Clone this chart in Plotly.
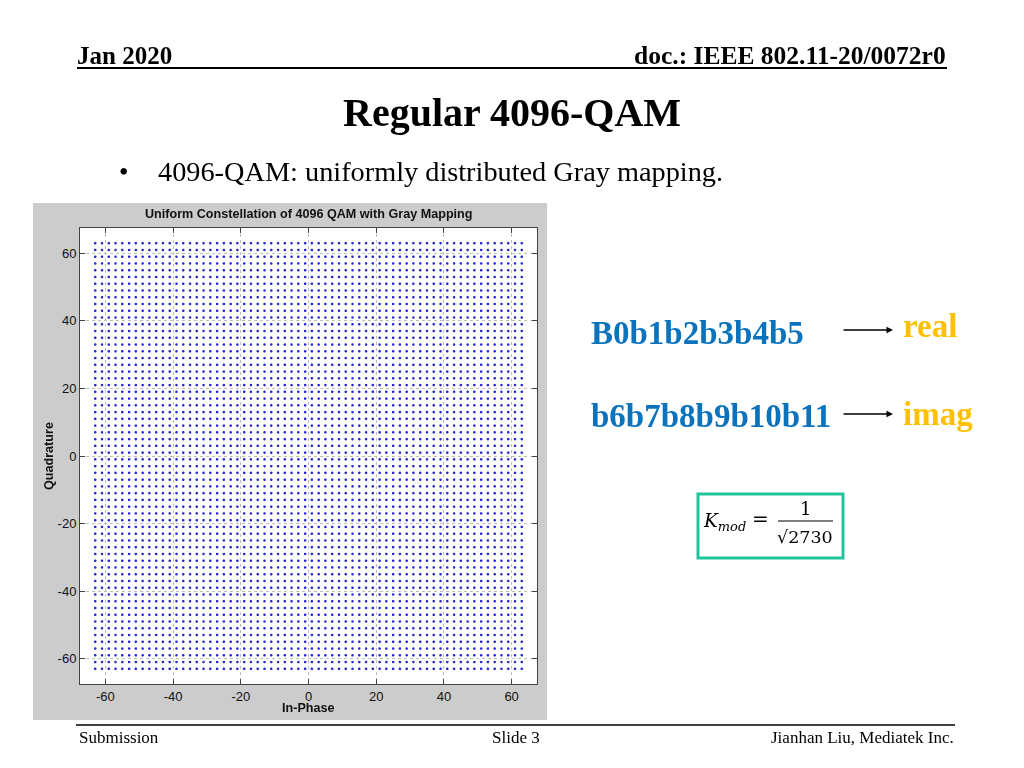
import plotly.graph_objects as go

# ---------------- data ----------------
# Uniform 4096-QAM: 64 amplitude levels per dimension (odd integers)
I_LEVELS = [-63, -61, -59, -57, -55, -53, -51, -49, -47, -45, -43, -41, -39, -37, -35, -33,
            -31, -29, -27, -25, -23, -21, -19, -17, -15, -13, -11, -9, -7, -5, -3, -1,
            1, 3, 5, 7, 9, 11, 13, 15, 17, 19, 21, 23, 25, 27, 29, 31,
            33, 35, 37, 39, 41, 43, 45, 47, 49, 51, 53, 55, 57, 59, 61, 63]
Q_LEVELS = list(I_LEVELS)
TICK_VALUES = [-60, -40, -20, 0, 20, 40, 60]
TICK_LABELS = ["-60", "-40", "-20", "0", "20", "40", "60"]

HEADER_LEFT = "Jan 2020"
HEADER_RIGHT = "doc.: IEEE 802.11-20/0072r0"
SLIDE_TITLE = "Regular 4096-QAM"
BULLET_TEXT = "4096-QAM: uniformly distributed Gray mapping."
CHART_TITLE = "Uniform Constellation of 4096 QAM with Gray Mapping"
X_LABEL = "In-Phase"
Y_LABEL = "Quadrature"
BITS_REAL = "B0b1b2b3b4b5"
BITS_IMAG = "b6b7b8b9b10b11"
FOOTER_LEFT = "Submission"
FOOTER_MID = "Slide 3"
FOOTER_RIGHT = "Jianhan Liu, Mediatek Inc."

# ---------------- layout geometry ----------------
W, H = 1024, 768
OFF = 8  # page body margin offset
PLOT_LEFT, PLOT_RIGHT, PLOT_TOP, PLOT_BOTTOM = 80, 537, 228, 684  # screen pixels
L = PLOT_LEFT - OFF
R = W - (PLOT_RIGHT - OFF)
T = PLOT_TOP - OFF
B = H - (PLOT_BOTTOM - OFF)
PW, PH = W - L - R, H - T - B


def px(x):
    return (x - OFF - L) / PW


def py(y):
    return (H - B - (y - OFF)) / PH


xs = [i for q in Q_LEVELS for i in I_LEVELS]
ys = [q for q in Q_LEVELS for i in I_LEVELS]

fig = go.Figure()
fig.add_trace(go.Scattergl(
    x=xs, y=ys, mode="markers",
    marker=dict(size=2.6, color="#2a2ad4", line=dict(width=0)),
    hoverinfo="skip", showlegend=False,
))

axis_common = dict(
    range=[-67.5, 67.5], tickmode="array", tickvals=TICK_VALUES, ticktext=TICK_LABELS,
    showline=True, linecolor="#444444", linewidth=1, mirror="ticks",
    ticks="inside", ticklen=5, tickcolor="#444444",
    showgrid=True, gridcolor="#bdbdbd", griddash="dot", gridwidth=1,
    zeroline=False, fixedrange=True,
    tickfont=dict(family="Liberation Sans, Arial", size=13, color="#111111"),
)

fig.update_layout(
    width=W, height=H, autosize=False,
    margin=dict(l=L, r=R, t=T, b=B, pad=0),
    paper_bgcolor="white", plot_bgcolor="white",
    xaxis=dict(**axis_common),
    yaxis=dict(**axis_common),
    showlegend=False,
)

serif = "Liberation Serif, Times New Roman, serif"
sans = "Liberation Sans, Arial, sans-serif"
mathf = "DejaVu Serif, serif"

shapes = [
    # MATLAB figure grey
    dict(type="rect", xref="paper", yref="paper", x0=px(33), x1=px(547), y0=py(720), y1=py(203),
         fillcolor="#cccccc", line=dict(width=0), layer="below"),
    dict(type="rect", xref="paper", yref="paper", x0=0, x1=1, y0=0, y1=1,
         fillcolor="white", line=dict(width=0), layer="below"),
    # header line
    dict(type="line", xref="paper", yref="paper", x0=px(77), x1=px(947), y0=py(68), y1=py(68),
         line=dict(color="black", width=2)),
    # footer line
    dict(type="line", xref="paper", yref="paper", x0=px(76), x1=px(955), y0=py(725), y1=py(725),
         line=dict(color="black", width=1.5)),
    # formula box
    dict(type="rect", xref="paper", yref="paper", x0=px(698), x1=px(843), y0=py(558), y1=py(494),
         line=dict(color="#22c49c", width=3), fillcolor="rgba(0,0,0,0)"),
    # fraction bar
    dict(type="line", xref="paper", yref="paper", x0=px(778), x1=px(833), y0=py(521), y1=py(521),
         line=dict(color="black", width=1)),
]
fig.update_layout(shapes=shapes)


def txt(x, y, text, size, family=serif, color="black", xanchor="left", yanchor="middle", angle=0):
    fig.add_annotation(xref="paper", yref="paper", x=px(x), y=py(y), text=text, showarrow=False,
                       xanchor=xanchor, yanchor=yanchor, textangle=angle,
                       font=dict(family=family, size=size, color=color))


txt(75, 55, "<b>" + HEADER_LEFT + "</b>", 25)
txt(948, 55, "<b>" + HEADER_RIGHT + "</b>", 25.5, xanchor="right")
txt(512, 113, "<b>" + SLIDE_TITLE + "</b>", 40, xanchor="center")
txt(117, 172, "•", 27)
txt(156, 171, BULLET_TEXT, 28.3)

txt(308, 214, "<b>" + CHART_TITLE + "</b>", 12.6, family=sans, color="#111111", xanchor="center")
txt(308, 708, "<b>" + X_LABEL + "</b>", 12.6, family=sans, color="#111111", xanchor="center")
txt(49, 456, "<b>" + Y_LABEL + "</b>", 12.6, family=sans, color="#111111", xanchor="center", angle=-90)

txt(589, 333, "<b>" + BITS_REAL + "</b>", 33, color="#0b72bd")
txt(589, 416, "<b>" + BITS_IMAG + "</b>", 33, color="#0b72bd")
txt(901, 326, "<b>real</b>", 33, color="#ffc000")
txt(901, 414, "<b>imag</b>", 33, color="#ffc000")

for yy in (330, 414):
    fig.add_annotation(xref="paper", yref="paper", x=px(893), y=py(yy), ax=-51, ay=0,
                       text="", showarrow=True, arrowhead=2, arrowsize=1, arrowwidth=1.3,
                       arrowcolor="black")

# formula K_mod = 1/sqrt(2730)
txt(701, 522, "<i>K</i><sub><i>mod</i></sub>", 18.5, family=mathf)
txt(760, 519, "=", 20, family=mathf, xanchor="center")
txt(805, 508, "1", 18, family=mathf, xanchor="center")
txt(805, 537, "√2730", 17.5, family=mathf, xanchor="center")

txt(77, 737, FOOTER_LEFT, 17)
txt(516, 737, FOOTER_MID, 17, xanchor="center")
txt(956, 737, FOOTER_RIGHT, 17, xanchor="right")

fig.write_html("out.html")
